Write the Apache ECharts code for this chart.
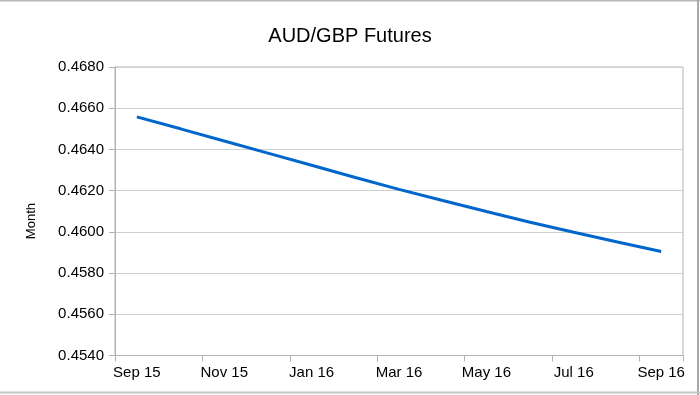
<!DOCTYPE html>
<html>
<head>
<meta charset="utf-8">
<script src="https://cdn.jsdelivr.net/npm/echarts@6/dist/echarts.min.js"></script>
<style>
html,body{margin:0;padding:0;background:#fff;}
#chart{width:700px;height:395px;}
</style>
</head>
<body>
<div id="chart"></div>
<script>
var months = ['Sep 15','Oct 15','Nov 15','Dec 15','Jan 16','Feb 16','Mar 16','Apr 16','May 16','Jun 16','Jul 16','Aug 16','Sep 16'];
var futures = [0.46558,0.46500,0.46441,0.46382,0.46323,0.46264,0.46206,0.46152,0.46099,0.46047,0.45998,0.45951,0.45905];
var chartTitle = 'AUD/GBP Futures';
var yName = 'Month';

var chart = echarts.init(document.getElementById('chart'), null, {renderer:'canvas'});
var fontFam = '"Liberation Sans", Arial, sans-serif';
chart.setOption({
  animation: false,
  backgroundColor: '#ffffff',
  title: {
    text: chartTitle,
    left: 'center',
    top: 21,
    textStyle: {fontFamily: fontFam, fontSize: 20, fontWeight: 'normal', color: '#000'}
  },
  grid: {
    left: 115, right: 17, top: 67, bottom: 39.5,
    show: true, borderColor: '#b3b3b3', borderWidth: 1, containLabel: false
  },
  xAxis: {
    type: 'category',
    data: months,
    boundaryGap: true,
    axisLine: {show: true, lineStyle: {color: '#b3b3b3', width: 1}},
    axisTick: {show: true, interval: 1, length: 6, lineStyle: {color: '#b3b3b3'}},
    axisLabel: {interval: 1, margin: 10, fontFamily: fontFam, fontSize: 15, color: '#000'},
    splitLine: {show: false}
  },
  yAxis: {
    type: 'value',
    min: 0.454, max: 0.468, interval: 0.002,
    axisLine: {show: true, lineStyle: {color: '#b3b3b3', width: 1}},
    axisTick: {show: true, length: 6, lineStyle: {color: '#b3b3b3'}},
    axisLabel: {margin: 11, fontFamily: fontFam, fontSize: 15, color: '#000',
      formatter: function (v) { return v.toFixed(4); }},
    splitLine: {show: true, lineStyle: {color: '#d0d0d0', width: 1}}
  },
  series: [{
    type: 'line',
    data: futures,
    showSymbol: false,
    symbol: 'none',
    lineStyle: {color: '#0066cc', width: 3},
    itemStyle: {color: '#0066cc'}
  }],
  graphic: [
    {type: 'text', left: 25, top: 203, rotation: Math.PI/2,
     style: {text: yName, font: '13px "Liberation Sans", Arial, sans-serif', fill: '#000'}},
    {type: 'rect', shape: {x: 0, y: 0, width: 700, height: 1.5}, style: {fill: '#b8b8b8'}, silent: true},
    {type: 'rect', shape: {x: 697, y: 0, width: 2, height: 395}, style: {fill: '#a8a8a8'}, silent: true},
    {type: 'rect', shape: {x: 0, y: 391.5, width: 700, height: 2}, style: {fill: '#c4c4c4'}, silent: true}
  ]
});
</script>
</body>
</html>
